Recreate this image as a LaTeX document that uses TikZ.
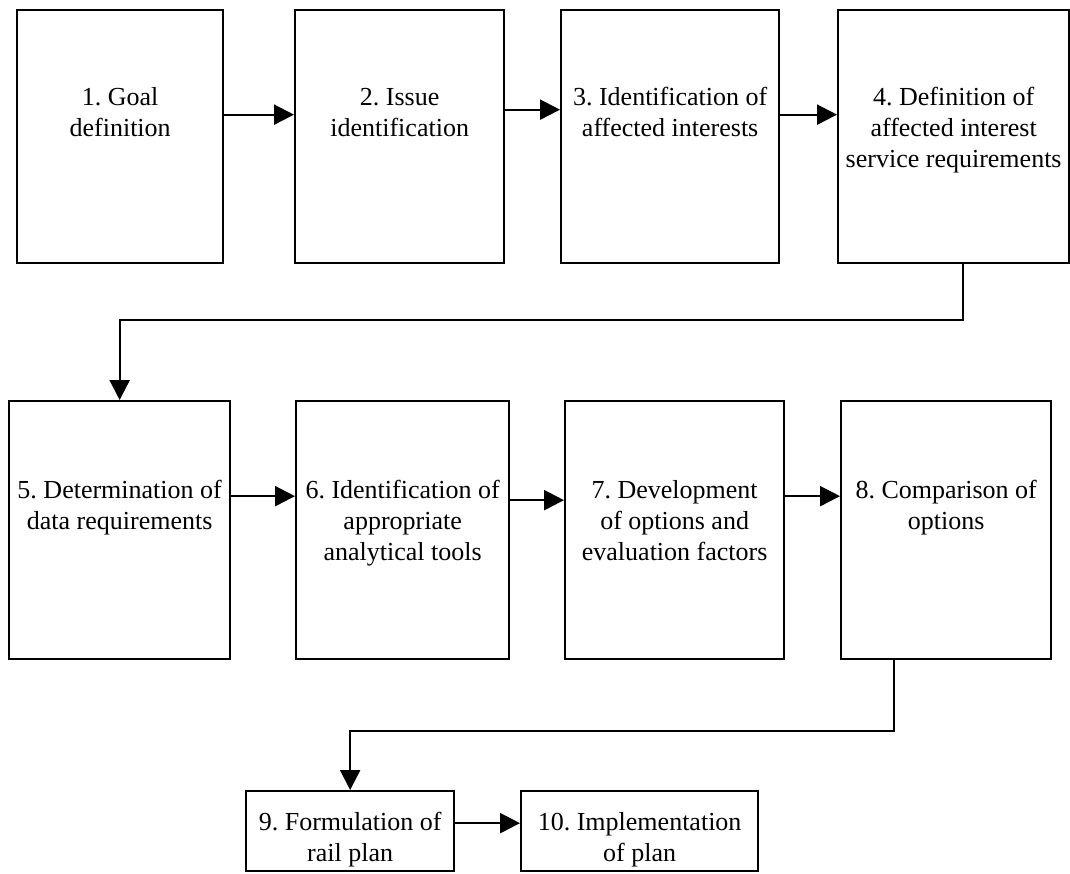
\documentclass[tikz,border=0pt]{standalone}
\usepackage{fontspec}
\setmainfont{Liberation Serif}
\usetikzlibrary{arrows.meta}
\frenchspacing

% box text: width, height, gap above first line, text
\newcommand{\boxtext}[4]{\parbox[c][#2][t]{#1}{\centering\vspace*{#3}\strut #4}}

\tikzset{
  stepbox/.style={draw, line width=2.3pt, inner sep=0pt, anchor=north west,
    font=\fontsize{26}{31}\selectfont},
  arr/.style={line width=2.3pt, -{Triangle[length=20pt,width=20pt]}}
}

\begin{document}
\begin{tikzpicture}[x=1pt,y=-1pt]
\useasboundingbox (0,0) rectangle (1070,873);
%row 1
\node[stepbox] (b1) at (16,9) {\boxtext{206pt}{253pt}{74pt}{1. Goal\\definition}};
\node[stepbox] (b2) at (294,9) {\boxtext{209pt}{253pt}{74pt}{2. Issue\\identification}};
\node[stepbox] (b3) at (560,9) {\boxtext{218pt}{253pt}{74pt}{3. Identification of\\affected interests}};
\node[stepbox] (b4) at (837,9) {\boxtext{231pt}{253pt}{74pt}{4. Definition of\\affected interest\\service requirements}};
%row 2
\node[stepbox] (b5) at (8,400) {\boxtext{221pt}{258pt}{76pt}{5. Determination of\\data requirements}};
\node[stepbox] (b6) at (295,400) {\boxtext{213pt}{258pt}{76pt}{6. Identification of\\appropriate\\analytical tools}};
\node[stepbox] (b7) at (564,400) {\boxtext{219pt}{258pt}{76pt}{7. Development\\of options and\\evaluation factors}};
\node[stepbox] (b8) at (840,400) {\boxtext{210pt}{258pt}{76pt}{8. Comparison of\\options}};
%row 3
\node[stepbox] (b9) at (245,790) {\boxtext{208pt}{80pt}{18pt}{9. Formulation of\\rail plan}};
\node[stepbox] (b10) at (520,790) {\boxtext{237pt}{80pt}{18pt}{10. Implementation\\of plan}};

\draw[arr] ([yshift=22pt]b1.east) -- ([yshift=22pt]b2.west);
\draw[arr] ([yshift=27pt]b2.east) -- ([yshift=27pt]b3.west);
\draw[arr] ([yshift=22pt]b3.east) -- ([yshift=22pt]b4.west);
\coordinate (k4) at (963,320);
\draw[arr] (k4 |- b4.south) -- (k4) -| (b5.north);
\draw[arr] ([yshift=34pt]b5.east) -- ([yshift=34pt]b6.west);
\draw[arr] ([yshift=30pt]b6.east) -- ([yshift=30pt]b7.west);
\draw[arr] ([yshift=34pt]b7.east) -- ([yshift=34pt]b8.west);
\coordinate (k8) at (894,731);
\draw[arr] (k8 |- b8.south) -- (k8) -| (b9.north);
\draw[arr] ([yshift=8pt]b9.east) -- ([yshift=8pt]b10.west);
\end{tikzpicture}
\end{document}
